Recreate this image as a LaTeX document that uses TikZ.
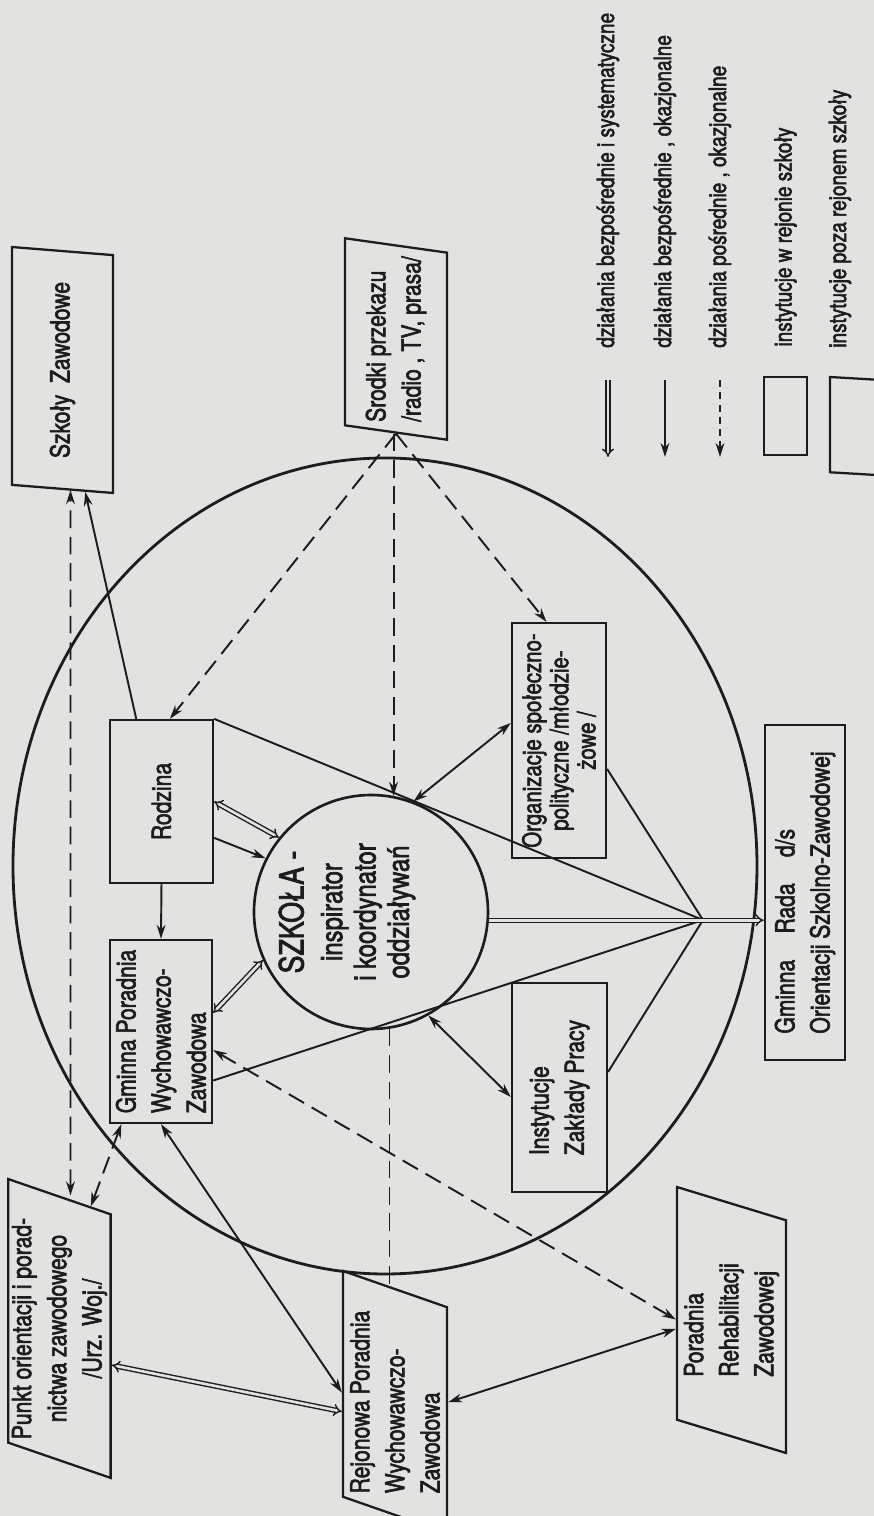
\documentclass[tikz,border=0pt]{standalone}
\usepackage{fontspec}
\setmainfont{TeX Gyre Heros}[FakeStretch=0.8, FakeBold=2.2]
\usetikzlibrary{shapes.geometric,arrows.meta,calc,positioning}
\definecolor{paper}{RGB}{226,226,224}
\definecolor{ink}{RGB}{28,28,28}

\begin{document}
\begin{tikzpicture}[rotate=90, transform shape, x=0.02cm, y=0.02cm,
    every node/.style={text=ink, font=\fontsize{15}{20}\selectfont},
    inbox/.style={rectangle, draw=ink, line width=1.3pt, align=left, inner sep=3pt},
    outbox/.style={trapezium, trapezium stretches body, draw=ink, line width=1.3pt, align=left, inner sep=2pt},
    con/.style={draw=ink, line width=1.1pt},
    dsh/.style={con, dash pattern=on 10pt off 5pt},
    dbl/.style={draw=ink, line width=0.8pt, double=paper, double distance=1.5pt},
    legtext/.style={font=\fontsize{13.5}{16}\selectfont, inner sep=0pt},
    >={Stealth[length=8pt,width=5pt]}]

\path[fill=paper, use as bounding box] (0,0) rectangle (1516,874);

\draw[ink, line width=1.6pt] (650,489) ellipse [x radius=408, y radius=372];

\node[draw=ink, circle, line width=1.5pt, minimum size=4.68cm] (szkola) at (604,503) {};
\node[align=center, font=\fontsize{17}{19}\selectfont] (szkolatxt) at ($(szkola)+(0,24)$)
    {{\fontsize{19}{21}\selectfont SZKOŁA -}\\[3pt]inspirator\\i koordynator\\oddziaływań};

\node[inbox, minimum width=3.26cm, minimum height=2.06cm] (rodz) at (714.5,712.5) {Rodzina};
\node[inbox, minimum width=3.66cm, minimum height=2.04cm] (gpor) at (484.5,713) {Gminna Poradnia\\Wychowawczo-\\Zawodowa};
\node[inbox, minimum width=4.18cm, minimum height=1.9cm] (inst) at (428.5,314.5) {Instytucje\\Zakłady Pracy};
\node[inbox, minimum width=4.7cm, minimum height=1.88cm, align=center, font=\fontsize{14.5}{15.5}\selectfont] (org) at (775.5,315)
    {Organizacje społeczno-\\polityczne /młodzie-\\żowe /};
\node[inbox, minimum width=6.7cm, minimum height=1.6cm] (rada) at (623.5,69) {Gminna\quad Rada\quad d/s\\Orientacji Szkolno-Zawodowej};

\node[outbox, trapezium left angle=76, trapezium right angle=104, minimum width=4.92cm, minimum height=2.02cm] (szkoly) at (1146,811.5) {Szkoły\ \ Zawodowe};
\node[outbox, trapezium left angle=78, trapezium right angle=102, minimum width=3.84cm, minimum height=2.04cm] (srodki) at (1177,478) {Srodki przekazu\\/radio , TV, prasa/};
\node[outbox, trapezium left angle=71, trapezium right angle=109, minimum width=5.86cm, minimum height=2.02cm, align=center] (punkt) at (187.5,814.5) {Punkt orientacji i porad-\\nictwa zawodowego\\/Urz. Woj./};
\node[outbox, trapezium left angle=69.5, trapezium right angle=110.5, minimum width=4.76cm, minimum height=2.08cm] (rejon) at (114,479) {Rejonowa Poradnia\\Wychowawczo-\\Zawodowa};
\node[outbox, trapezium left angle=72, trapezium right angle=108, minimum width=5.32cm, minimum height=2.18cm] (rehab) at (196,142.5) {Poradnia\\Rehabilitacji\\Zawodowej};

\coordinate (hub) at (596,171);

\draw[dbl, {Implies}-{Implies}] (rodz.south) -- (szkola.51);
\draw[con, ->] ($(rodz.south west)!0.28!(rodz.south east)$) -- (szkola.63);
\draw[con, ->] (rodz.west) -- (gpor.east);
\draw[dbl, {Implies}-{Implies}] ($(gpor.south west)!0.6!(gpor.south east)$) -- (szkola.114);
\draw[con, <->] (szkola.339) -- ($(org.north west)!0.574!(org.north east)$);
\draw[con, <->] (szkola.209) -- ($(inst.north west)!0.455!(inst.north east)$);

\draw[con] (rodz.south east) -- (hub);
\draw[con] ($(org.south west)!0.38!(org.south east)$) -- (hub);
\draw[con] ($(gpor.south west)!0.235!(gpor.south east)$) -- (hub);
\draw[con] ($(inst.south west)!0.574!(inst.south east)$) -- (hub);
\draw[dbl, -{Implies}] (szkola.266) -- (szkola.266 |- rada.north);

\draw[dsh, ->] (srodki.west) -- ($(rodz.south east)!0.42!(rodz.north east)$);
\draw[dsh, ->] (srodki.west |- szkola.349) -- (szkola.349);
\draw[dsh, ->] (srodki.west) -- ($(org.south east)!0.63!(org.north east)$);

\draw[con, ->] ($(rodz.south east)!0.74!(rodz.north east)$) -- ($(szkoly.bottom left corner)!0.28!(szkoly.top left corner)$);
\draw[dsh, <->] ($(punkt.east)+(0,-11)$) -- ($(szkoly.west)+(0,-8)$);
\draw[dsh, <->] ($(gpor.north west)!0.12!(gpor.south west)$) -- ($(punkt.bottom right corner)!0.2!(punkt.top right corner)$);
\draw[dbl, {Implies}-{Implies}] ($(punkt.bottom left corner)!0.43!(punkt.bottom right corner)$) -- ($(rejon.top left corner)!0.377!(rejon.top right corner)$);
\draw[con, <->] (gpor.west) -- ($(rejon.top left corner)!0.46!(rejon.top right corner)$);
\draw[dsh] (szkola.189) -- (szkola.189 -| rejon.right side);
\draw[dsh, <->] ($(gpor.south west)!0.4!(gpor.south east)$) -- ($(rehab.top left corner)!0.43!(rehab.top right corner)$);
\draw[con, <->] ($(rejon.bottom left corner)!0.58!(rejon.bottom right corner)$) -- ($(rehab.top left corner)!0.39!(rehab.top right corner)$);

\coordinate (l1a) at (1136,266);
\coordinate (l1b) at (1059,266);
\coordinate (l2a) at (1136,209);
\coordinate (l2b) at (1059,209);
\coordinate (l3a) at (1136,154);
\coordinate (l3b) at (1059,154);
\draw[dbl, -{Implies}] (l1a) -- (l1b);
\draw[con, ->] (l2a) -- (l2b);
\draw[con, dash pattern=on 4pt off 3pt, ->] (l3a) -- (l3b);
\node[inbox, minimum width=1.56cm, minimum height=0.86cm] (legin) at (1100,88.5) {};
\node[outbox, trapezium left angle=69, trapezium right angle=111, minimum width=1.96cm, minimum height=0.92cm] (legout) at (1090,21) {};

\node[legtext, right=0.64cm of l1a] (t1) {działania bezpośrednie i systematyczne};
\node[legtext, right=0.64cm of l2a] (t2) {działania bezpośrednie , okazjonalne};
\node[legtext, right=0.64cm of l3a] (t3) {działania pośrednie , okazjonalne};
\node[legtext, right=0.58cm of legin] (t4) {instytucje w rejonie szkoły};
\node[legtext, anchor=west] (t5) at (1168,34) {instytucje poza rejonem szkoły};
\end{tikzpicture}
\end{document}
